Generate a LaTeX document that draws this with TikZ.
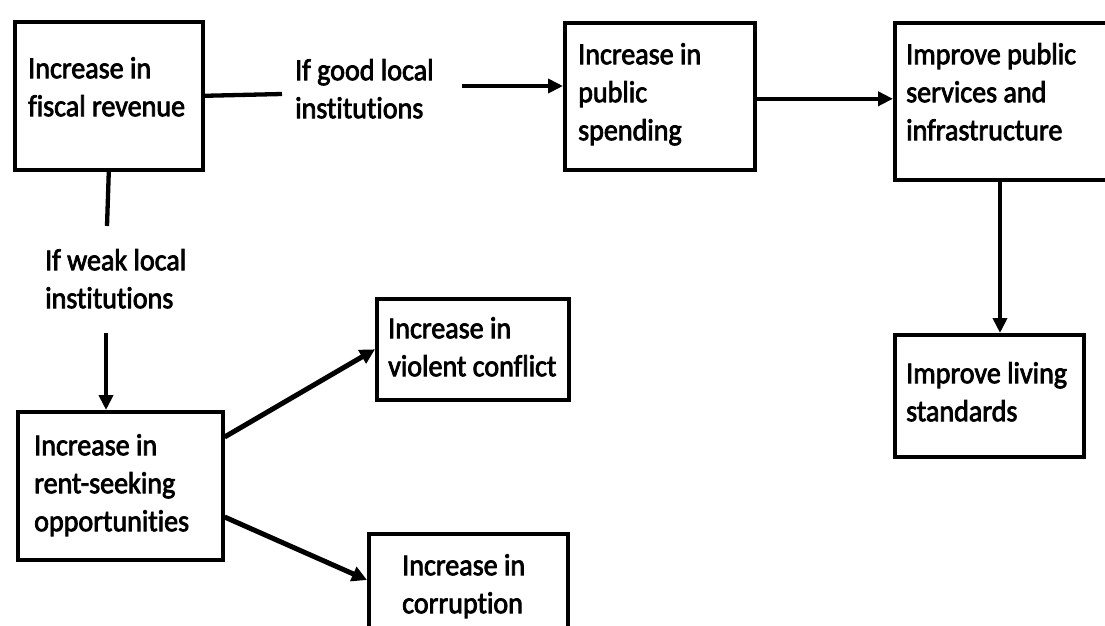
\documentclass[tikz,border=0pt]{standalone}
\usepackage{fontspec}
\setmainfont{Carlito}[FakeBold=2.5, FakeStretch=0.92, Ligatures=NoCommon]
\usetikzlibrary{arrows.meta}

\tikzset{
  box/.style={draw, line width=3.6pt, inner sep=0pt, anchor=north west},
  txt/.style={anchor=north west, inner sep=0pt, align=left,
              font=\fontsize{30.5}{38}\selectfont},
  link/.style={line width=4.3pt},
  arr/.style={line width=4.3pt, -{Triangle[length=15pt,width=14pt]}},
  diag/.style={line width=5pt, -{Triangle[length=15pt,width=15pt]}},
}

\begin{document}
\begin{tikzpicture}[x=1pt, y=-1pt]
  \useasboundingbox (0,0) rectangle (1105,626);
  \fill[white] (0,0) rectangle (1105,626);

  % boxes (north west corner, size)
  \node[box, minimum width=188pt, minimum height=148pt] (A) at (13,20) {};
  \node[box, minimum width=190pt, minimum height=147pt] (B) at (563,21) {};
  \node[box, minimum width=222pt, minimum height=157pt] (C) at (893,21) {};
  \node[box, minimum width=189pt, minimum height=122pt] (D) at (893,333) {};
  \node[box, minimum width=205pt, minimum height=148pt] (E) at (16,410) {};
  \node[box, minimum width=192pt, minimum height=101pt] (F) at (375,297) {};
  \node[box, minimum width=199pt, minimum height=120pt] (G) at (367,532) {};

  % box texts
  \node[txt] (At) at (28,51.4)   {\strut Increase in\\fiscal revenue};
  \node[txt] (Bt) at (578,37.4)  {\strut Increase in\\public\\spending};
  \node[txt] (Ct) at (906,37.4)  {\strut Improve public\\services and\\infrastructure};
  \node[txt] (Dt) at (906,356.4) {\strut Improve living\\standards};
  \node[txt] (Et) at (34,428.4)  {\strut Increase in\\rent-seeking\\opportunities};
  \node[txt] (Ft) at (388,311.4) {\strut Increase in\\violent conflict};
  \node[txt] (Gt) at (402,548.4) {\strut Increase in\\corruption};

  % branch conditions
  \node[txt] (good) at (295,53.4)  {\strut If good local\\institutions};
  \node[txt] (weak) at (45,243.4)  {\strut If weak local\\institutions};

  % free ends of the split connectors
  \coordinate (g1) at (282,94);
  \coordinate (g2) at (462,86);
  \coordinate (w1) at (107,226);
  \coordinate (w2) at (106,333);
  \coordinate (cd) at (1000,250);

  % good-institutions path
  \draw[link] (A.east) -- (g1);
  \draw[arr] (g2) -- (g2 -| B.west);
  \draw[arr] ([yshift=-2.5pt]B.east) coordinate (bc) -- (bc -| C.west);
  \draw[arr] (C.south -| cd) -- (D.north -| cd);

  % weak-institutions path
  \draw[link] (A.south) -- (w1);
  \draw[arr] (w2) -- (w2 |- E.north);
  \draw[diag] ([yshift=-27pt]E.north east) -- (F.west);
  \draw[diag] ([yshift=-107pt]E.north east) -- ([yshift=-48pt]G.north west);
\end{tikzpicture}
\end{document}
